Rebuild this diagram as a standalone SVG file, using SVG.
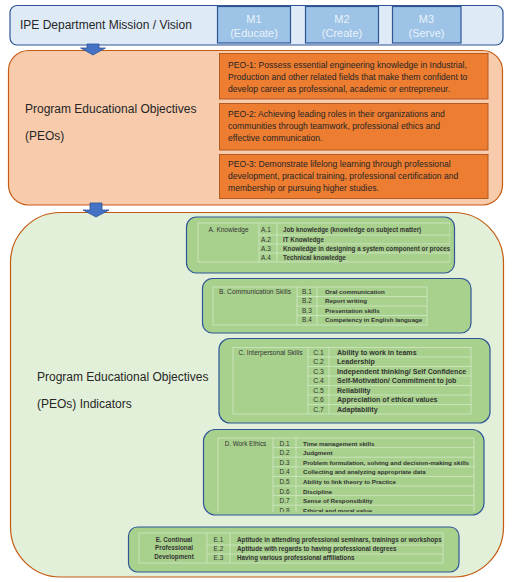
<svg xmlns="http://www.w3.org/2000/svg" width="515" height="582" viewBox="0 0 515 582">
<style>
  text { font-family: "Liberation Sans", Arial, sans-serif; }
  .lbl { font-size: 12px; fill: #262626; }
  .mt { font-size: 11px; fill: #EAF2FA; text-anchor: middle; }
  .peo { font-size: 8.6px; fill: #262626; }
  .cat { font-size: 6.5px; fill: #333; text-anchor: middle; }
  .code { font-size: 6.5px; fill: #333; text-anchor: middle; }
  .desc { font-size: 6.3px; fill: #333; font-weight: bold; }
  .tl { stroke: #D3E8C6; stroke-width: 0.8; fill: none; }
  .sub { fill: #A9D18E; stroke: #2F5597; stroke-width: 1.2; }
  .mbox { fill: #9DC3E6; stroke: #2F5597; stroke-width: 1.2; }
  .pbox { fill: #ED7D31; stroke: #B35A1F; stroke-width: 1; }
  .arrow { fill: #4472C4; stroke: #2F5597; stroke-width: 0.8; }
</style>
<defs>
  <clipPath id="clipA"><rect x="190" y="220" width="260" height="45"/></clipPath>
  <clipPath id="clipD"><rect x="210" y="432" width="270" height="80"/></clipPath>
</defs>

<g id="mission">
  <rect x="10" y="5.5" width="493" height="39.5" rx="7" fill="#DEEBF7" stroke="#2F5597" stroke-width="1.2"/>
  <text class="lbl" x="20" y="29">IPE Department Mission / Vision</text>
</g>
<g id="m1">
  <rect class="mbox" x="217.5" y="6.5" width="73" height="36.5"/>
  <text class="mt" x="254" y="23">M1</text>
  <text class="mt" x="254" y="37">(Educate)</text>
</g>
<g id="m2">
  <rect class="mbox" x="305.5" y="6.5" width="73" height="36.5"/>
  <text class="mt" x="342" y="23">M2</text>
  <text class="mt" x="342" y="37">(Create)</text>
</g>
<g id="m3">
  <rect class="mbox" x="392.5" y="6.5" width="68.5" height="36.5"/>
  <text class="mt" x="426.5" y="23">M3</text>
  <text class="mt" x="426.5" y="37">(Serve)</text>
</g>

<g id="peos">
  <rect x="8.5" y="50.5" width="494" height="154.5" rx="20" fill="#F8CBAD" stroke="#C55A11" stroke-width="1.2"/>
  <text class="lbl" x="25" y="113">Program Educational Objectives</text>
  <text class="lbl" x="25" y="140">(PEOs)</text>
</g>
<g id="peo1">
  <rect class="pbox" x="219.5" y="53.5" width="268.5" height="45.5"/>
  <text class="peo" x="228" y="67.5">PEO-1: Possess essential engineering knowledge in Industrial,</text>
  <text class="peo" x="228" y="79.5">Production and other related fields that make them confident to</text>
  <text class="peo" x="228" y="91.5">develop career as professional, academic or entrepreneur.</text>
</g>
<g id="peo2">
  <rect class="pbox" x="219.5" y="103.5" width="268.5" height="46.5"/>
  <text class="peo" x="228" y="116.5">PEO-2: Achieving leading roles in their organizations and</text>
  <text class="peo" x="228" y="128.5">communities through teamwork, professional ethics and</text>
  <text class="peo" x="228" y="140.5">effective communication.</text>
</g>
<g id="peo3">
  <rect class="pbox" x="219.5" y="154.5" width="268.5" height="44"/>
  <text class="peo" x="228" y="167">PEO-3: Demonstrate lifelong learning through professional</text>
  <text class="peo" x="228" y="179">development, practical training, professional certification and</text>
  <text class="peo" x="228" y="191">membership or pursuing higher studies.</text>
</g>

<g id="indicators">
  <rect x="10.5" y="212.5" width="493" height="364.5" rx="50" fill="#E2F0D9" stroke="#C55A11" stroke-width="1.2"/>
  <text class="lbl" x="37" y="381">Program Educational Objectives</text>
  <text class="lbl" x="37" y="408">(PEOs) Indicators</text>
</g>

<g id="ind-a">
  <rect class="sub" x="186.5" y="217" width="268" height="56" rx="10"/>
  <g clip-path="url(#clipA)">
    <rect class="tl" x="198" y="223" width="252" height="39"/>
    <path class="tl" d="M259,223V262 M277,223V262 M259,235H450 M259,244H450 M259,253H450"/>
    <text class="cat" x="228.5" y="232">A. Knowledge</text>
    <text class="code" x="266" y="232">A.1</text>
    <text class="code" x="266" y="241.5">A.2</text>
    <text class="code" x="266" y="250.5">A.3</text>
    <text class="code" x="266" y="259.5">A.4</text>
    <text class="desc" x="283" y="232">Job knowledge (knowledge on subject matter)</text>
    <text class="desc" x="283" y="241.5">IT Knowledge</text>
    <text class="desc" x="283" y="250.5">Knowledge in designing a system component or process</text>
    <text class="desc" x="283" y="259.5">Technical knowledge</text>
  </g>
</g>

<g id="ind-b">
  <rect class="sub" x="202.5" y="278.5" width="268.5" height="54.5" rx="10"/>
  <rect class="tl" x="213" y="287" width="214" height="38"/>
  <path class="tl" d="M297,287V325 M317,287V325 M297,296.5H427 M297,306H427 M297,315.5H427"/>
  <text class="cat" x="255" y="293.5" style="font-size:6.7px">B. Communication Skills</text>
  <text class="code" x="307" y="293.5">B.1</text>
  <text class="code" x="307" y="303">B.2</text>
  <text class="code" x="307" y="312.5">B.3</text>
  <text class="code" x="307" y="322">B.4</text>
  <text class="desc" x="325" y="293.5" style="font-size:6.2px">Oral communication</text>
  <text class="desc" x="325" y="303" style="font-size:6.2px">Report writing</text>
  <text class="desc" x="325" y="312.5" style="font-size:6.2px">Presentation skills</text>
  <text class="desc" x="325" y="322" style="font-size:6.2px">Competency in English language</text>
</g>

<g id="ind-c">
  <rect class="sub" x="219" y="338.5" width="271" height="84.5" rx="11"/>
  <rect class="tl" x="233" y="347.5" width="238" height="66.5"/>
  <path class="tl" d="M308,347.5V414 M329,347.5V414 M308,357H471 M308,366.5H471 M308,376H471 M308,385.5H471 M308,395H471 M308,404.5H471"/>
  <text class="cat" x="270.5" y="354.7" style="font-size:6.6px">C. Interpersonal Skills</text>
  <g style="font-size:7px">
  <text class="code" x="318.5" y="354.7" style="font-size:6.8px">C.1</text>
  <text class="code" x="318.5" y="364.2" style="font-size:6.8px">C.2</text>
  <text class="code" x="318.5" y="373.7" style="font-size:6.8px">C.3</text>
  <text class="code" x="318.5" y="383.2" style="font-size:6.8px">C.4</text>
  <text class="code" x="318.5" y="392.7" style="font-size:6.8px">C.5</text>
  <text class="code" x="318.5" y="402.2" style="font-size:6.8px">C.6</text>
  <text class="code" x="318.5" y="411.7" style="font-size:6.8px">C.7</text>
  </g>
  <text class="desc" x="337" y="354.7" style="font-size:7.1px">Ability to work in teams</text>
  <text class="desc" x="337" y="364.2" style="font-size:7.1px">Leadership</text>
  <text class="desc" x="337" y="373.7" style="font-size:7.1px">Independent thinking/ Self Confidence</text>
  <text class="desc" x="337" y="383.2" style="font-size:7.1px">Self-Motivation/  Commitment to job</text>
  <text class="desc" x="337" y="392.7" style="font-size:7.1px">Reliability</text>
  <text class="desc" x="337" y="402.2" style="font-size:7.1px">Appreciation of ethical values</text>
  <text class="desc" x="337" y="411.7" style="font-size:7.1px">Adaptability</text>
</g>

<g id="ind-d">
  <rect class="sub" x="203.5" y="429.5" width="280.5" height="85.5" rx="12"/>
  <g clip-path="url(#clipD)">
    <rect class="tl" x="218" y="438" width="256" height="80"/>
    <path class="tl" d="M273,438V518 M296,438V518 M273,447.6H474 M273,457.2H474 M273,466.8H474 M273,476.4H474 M273,486H474 M273,495.6H474 M273,505.2H474"/>
    <text class="cat" x="245.5" y="445.6" style="font-size:6.3px">D. Work Ethics</text>
    <text class="code" x="284.5" y="445.6">D.1</text>
    <text class="code" x="284.5" y="455.2">D.2</text>
    <text class="code" x="284.5" y="464.8">D.3</text>
    <text class="code" x="284.5" y="474.4">D.4</text>
    <text class="code" x="284.5" y="484">D.5</text>
    <text class="code" x="284.5" y="493.6">D.6</text>
    <text class="code" x="284.5" y="503.2">D.7</text>
    <text class="code" x="284.5" y="512.8">D.8</text>
    <text class="desc" x="303" y="445.6" style="font-size:6.2px">Time management skills</text>
    <text class="desc" x="303" y="455.2" style="font-size:6.2px">Judgment</text>
    <text class="desc" x="303" y="464.8" style="font-size:6.2px">Problem formulation, solving and decision-making skills</text>
    <text class="desc" x="303" y="474.4" style="font-size:6.2px">Collecting and analyzing appropriate data</text>
    <text class="desc" x="303" y="484" style="font-size:6.2px">Ability to link theory to Practice</text>
    <text class="desc" x="303" y="493.6" style="font-size:6.2px">Discipline</text>
    <text class="desc" x="303" y="503.2" style="font-size:6.2px">Sense of Responsibility</text>
    <text class="desc" x="303" y="512.8" style="font-size:6.2px">Ethical and moral value</text>
  </g>
</g>

<g id="ind-e">
  <rect class="sub" x="128.5" y="527" width="330.5" height="45" rx="9"/>
  <rect class="tl" x="139" y="533" width="304" height="30"/>
  <path class="tl" d="M207,533V563 M230,533V563 M207,545H443 M207,554H443"/>
  <text class="cat" x="174" y="541.5" style="font-weight:bold;font-size:6.3px">E. Continual</text>
  <text class="cat" x="174" y="550" style="font-weight:bold;font-size:6.3px">Professional</text>
  <text class="cat" x="174" y="558.5" style="font-weight:bold;font-size:6.3px">Development</text>
  <text class="code" x="218.5" y="541.5">E.1</text>
  <text class="code" x="218.5" y="550.5">E.2</text>
  <text class="code" x="218.5" y="559.5">E.3</text>
  <text class="desc" x="237" y="541.5">Aptitude in attending professional seminars, trainings or workshops</text>
  <text class="desc" x="237" y="550.5">Aptitude with regards  to having professional degrees</text>
  <text class="desc" x="237" y="559.5">Having various  professional affiliations</text>
</g>

<g id="connectors">
  <polygon class="arrow" points="87,44 99,44 99,48 105.5,48 93,55 80.5,48 87,48"/>
  <polygon class="arrow" points="90,203 102,203 102,210 109,210 96,217 83,210 90,210"/>
</g>
</svg>
